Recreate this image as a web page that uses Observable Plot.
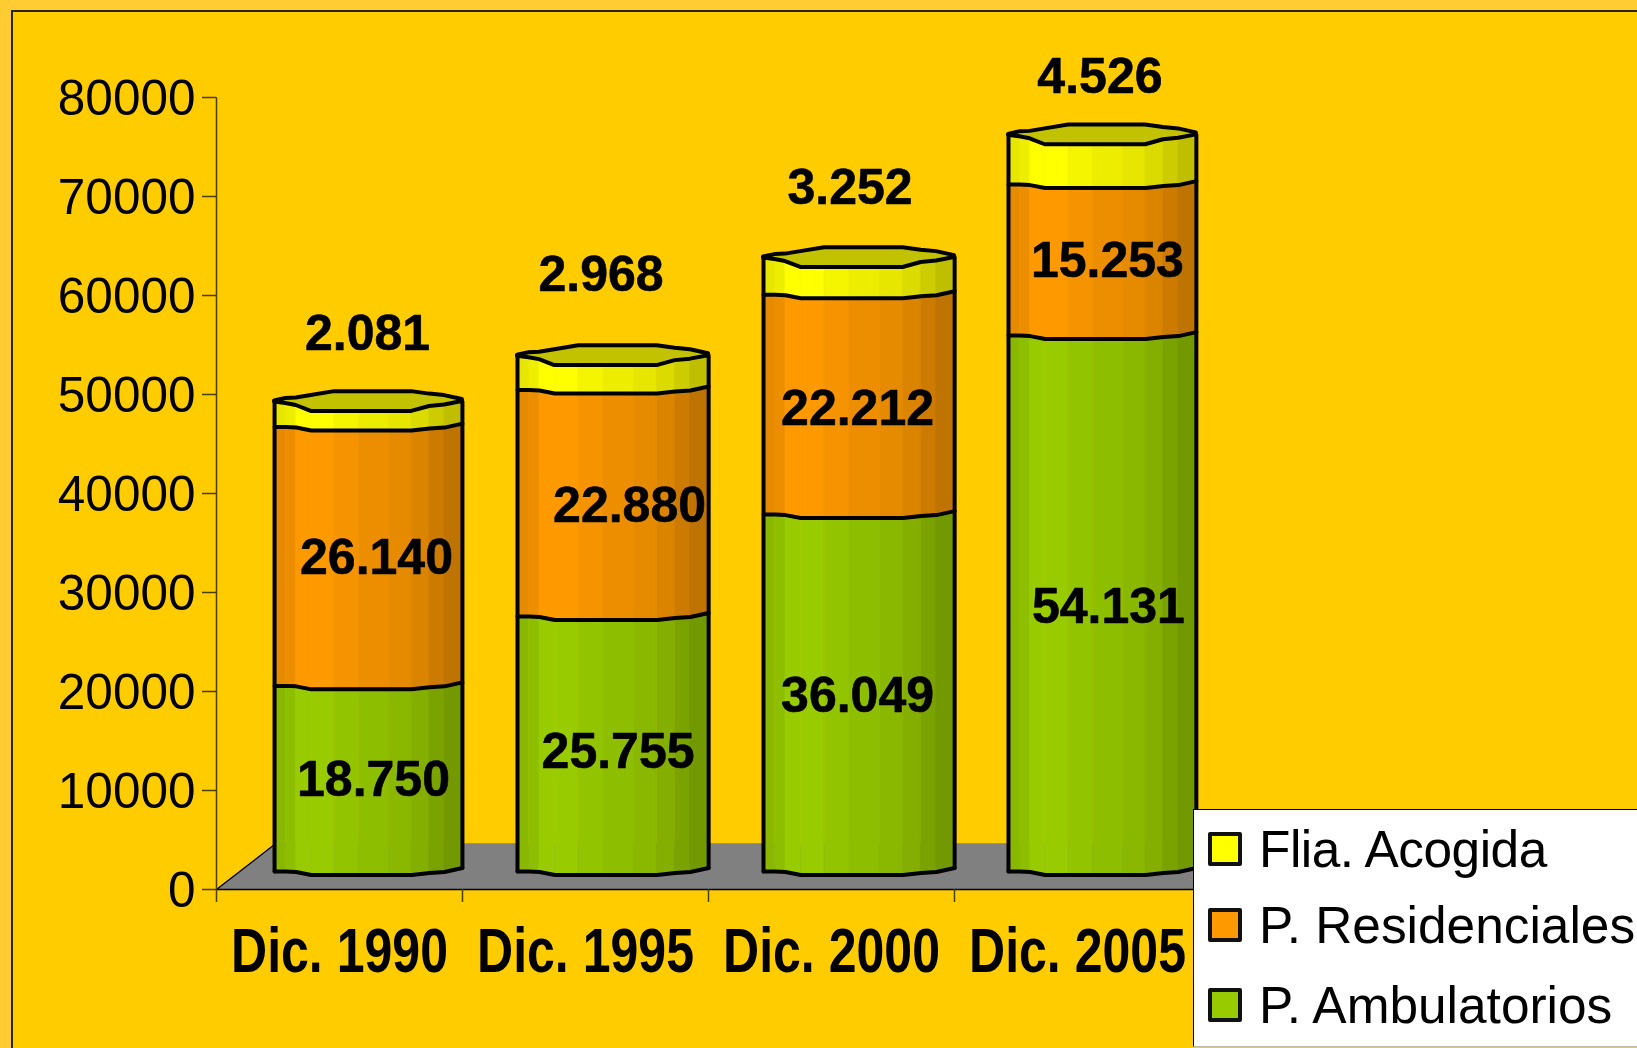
<!DOCTYPE html>
<html lang="es">
<head>
<meta charset="utf-8">
<title>Plazas por modalidad</title>
<script src="https://cdn.jsdelivr.net/npm/d3@7"></script>
<script src="https://cdn.jsdelivr.net/npm/@observablehq/plot@0.6"></script>
<style>
  html, body { margin: 0; padding: 0; overflow: hidden; background: #FFCC33; }
  #page { position: relative; width: 1637px; height: 1048px; overflow: hidden; font-family: "Liberation Sans", Arial, sans-serif; }
  #inner { position: absolute; left: 11px; top: 10px; width: 1640px; height: 1050px; background: #FFCC00; border: 2px solid #2b2400; box-sizing: border-box; }
  #chart { position: absolute; left: 0; top: 0; }
  #legend { position: absolute; left: 1193px; top: 809px; width: 460px; height: 238px; background: #fff; border: 1.5px solid #000; box-sizing: border-box; border-bottom-color: #bbb; }
  .sw { position: absolute; left: 14px; width: 34px; height: 34px; box-sizing: border-box; border: 4px solid #111; border-radius: 2px; }
  .lb { position: absolute; left: 65px; font-size: 51.4px; color: #000; white-space: nowrap; }
</style>
</head>
<body>
<div id="page">
  <div id="inner"></div>
  <div id="chart"></div>
  <div id="legend"></div>
</div>
<script>
// ---- chart values ----
const categories = ["Dic. 1990", "Dic. 1995", "Dic. 2000", "Dic. 2005"];
const ambulatorios = [18750, 25755, 36049, 54131];
const residenciales = [26140, 22880, 22212, 15253];
const acogida = [2081, 2968, 3252, 4526];
const yTicks = [0, 10000, 20000, 30000, 40000, 50000, 60000, 70000, 80000];
const seriesNames = ["Flia. Acogida", "P. Residenciales", "P. Ambulatorios"];
const seriesColors = ["#FFFF00", "#FF9900", "#99CC00"];

// ---- cylinder shape, in axis units ----
const cylLeft = [0.236, 1.2236, 2.2236, 3.2195];
const cylWidth = [0.7637, 0.777, 0.777, 0.7637];
const floorDepth = 4616;
const floorSkew = 0.24;
const baseLift = -18; // px: the 3D depth raises the column foot above the axis
const profile = [0, 0.06, 0.115, 0.195, 0.32, 0.45, 0.61, 0.73, 0.825, 0.905, 1];
const edgeFront = [0, 0, 50, 350, 350, 350, 350, 350, 150, 50, -350];
const lidFront = [-450, -300, -100, 500, 500, 500, 500, 500, 0, -150, -500];
const lidBack = [-550, -800, -850, -1100, -1500, -1500, -1500, -1500, -1250, -1100, -700];
const shades = [0.9, 0.93, 1, 1, 0.96, 0.93, 0.9, 0.86, 0.8, 0.75];

// ---- label nudges, px ----
const dxAmb = [5, 5, -1.5, 6], dyAmb = [1, 8, 3, 3];
const dxRes = [8, 16.5, -1.5, 5], dyRes = [1.5, 3, 4.5, 1];
const dxAco = [-1, -12, -9, -2.5], dyAco = [-72, -85.5, -75, -63];

const fmt = v => d3.format(",")(v).replace(",", ".");
const shade = (c, k) => { const r = d3.rgb(c); return d3.rgb(r.r * k, r.g * k, r.b * k).formatHex(); };

// ---- derived tables ----
const strips = [], edges = [], lids = [], sides = [];
categories.forEach((cat, i) => {
  const xAt = u => cylLeft[i] + u * cylWidth[i];
  const levels = [0, ambulatorios[i], ambulatorios[i] + residenciales[i], ambulatorios[i] + residenciales[i] + acogida[i]];
  const segColor = [seriesColors[2], seriesColors[1], seriesColors[0]];
  segColor.forEach((c, s) => {
    for (let k = 0; k < shades.length; k++) {
      [k, k + 1].forEach(j => strips.push({
        id: `${i}-${s}-${k}`, x: xAt(profile[j]),
        y1: levels[s] - edgeFront[j],
        y2: levels[s + 1] - (s === 2 ? lidFront[j] : edgeFront[j]),
        fill: shade(c, shades[k])
      }));
    }
  });
  [0, 1, 2].forEach(s => profile.forEach((u, j) => edges.push({ id: `${i}-${s}`, x: xAt(u), y: levels[s] - edgeFront[j] })));
  profile.forEach((u, j) => lids.push({ id: i, x: xAt(u), y1: levels[3] - lidFront[j], y2: levels[3] - lidBack[j] }));
  [[0, 0], [profile.length - 1, 1]].forEach(([j, e]) => {
    sides.push({ id: `${i}-${e}`, x: xAt(profile[j]), y: -edgeFront[j] });
    sides.push({ id: `${i}-${e}`, x: xAt(profile[j]), y: levels[3] - lidFront[j] });
  });
});

const floor = [
  { x: 0, y1: 0, y2: 0 },
  { x: floorSkew, y1: 0, y2: floorDepth },
  { x: 4, y1: 0, y2: floorDepth },
  { x: 4 + floorSkew, y1: floorDepth, y2: floorDepth }
];
const slant = [{ x: 0, y: 0 }, { x: floorSkew, y: floorDepth }];

const labelStyle = { text: "t", fontSize: 50, fontWeight: "bold", fontFamily: "Liberation Sans", fill: "#000", stroke: "#000", strokeWidth: 0.6 };
const labelMarks = [];
categories.forEach((cat, i) => {
  const cx = cylLeft[i] + cylWidth[i] / 2;
  const a = ambulatorios[i], r = residenciales[i], f = acogida[i];
  labelMarks.push(Plot.text([{ x: cx, y: a / 2, t: fmt(a) }], { x: "x", y: "y", ...labelStyle, dx: dxAmb[i], dy: baseLift + dyAmb[i] }));
  labelMarks.push(Plot.text([{ x: cx, y: a + r / 2, t: fmt(r) }], { x: "x", y: "y", ...labelStyle, dx: dxRes[i], dy: baseLift + dyRes[i] }));
  labelMarks.push(Plot.text([{ x: cx, y: a + r + f, t: fmt(f) }], { x: "x", y: "y", ...labelStyle, dx: dxAco[i], dy: baseLift + dyAco[i] }));
});

const axisInk = "#4a3d00";
const plot = Plot.plot({
  width: 1637,
  height: 1048,
  marginLeft: 216,
  marginRight: 437,
  marginTop: 97,
  marginBottom: 159,
  style: { background: "transparent", fontFamily: "Liberation Sans" },
  x: { domain: [0, 4], axis: null },
  y: { domain: [0, 80000], axis: null },
  color: { type: "identity" },
  marks: [
    Plot.areaY(floor, { x: "x", y1: "y1", y2: "y2", fill: "#808080" }),
    Plot.line(slant, { x: "x", y: "y", stroke: "#000", strokeWidth: 1.2 }),
    Plot.ruleY([0], { stroke: "#000", strokeWidth: 1.5, x1: 0, x2: 4 + floorSkew }),
    Plot.ruleX([0], { y1: 0, y2: 80000, stroke: axisInk, strokeWidth: 1.5 }),
    Plot.axisY({ ticks: yTicks, tickFormat: () => "", tickSize: 14, stroke: axisInk, label: null, strokeWidth: 1.5 }),
    Plot.axisY({ ticks: yTicks, tickFormat: d => String(d), tickSize: 0, tickPadding: 21, dy: 2, fontSize: 49.5, fontFamily: "Liberation Sans", fill: "#000", label: null }),
    Plot.axisX({ ticks: [0, 1, 2, 3, 4], tickFormat: () => "", tickSize: 13, stroke: axisInk, label: null, strokeWidth: 1.5 }),
    Plot.axisX({ ticks: [0.5, 1.5, 2.5, 3.5], tickFormat: d => categories[Math.floor(d)], tickSize: 0, tickPadding: 38, fontSize: 63, fontWeight: "bold", fontFamily: "Liberation Sans", fill: "#000", label: null }),
    Plot.areaY(strips, { x: "x", y1: "y1", y2: "y2", z: "id", fill: "fill", stroke: "fill", strokeWidth: 0.5, dy: baseLift }),
    Plot.areaY(lids, { x: "x", y1: "y1", y2: "y2", z: "id", fill: shade(seriesColors[0], 0.76), stroke: "#000", strokeWidth: 4, strokeLinejoin: "round", dy: baseLift }),
    Plot.line(edges, { x: "x", y: "y", z: "id", stroke: "#000", strokeWidth: 4, strokeLinejoin: "round", dy: baseLift }),
    Plot.line(sides, { x: "x", y: "y", z: "id", stroke: "#000", strokeWidth: 4, dy: baseLift }),
    ...labelMarks
  ]
});
document.getElementById("chart").appendChild(plot);

// the category labels are a condensed bold in the reference: squeeze the real text
d3.select(plot).selectAll("text").filter(function () { return categories.includes(this.textContent); })
  .attr("textLength", 217).attr("lengthAdjust", "spacingAndGlyphs");
d3.select(plot).selectAll("text tspan").filter(function () { return categories.includes(this.textContent); })
  .attr("textLength", 217).attr("lengthAdjust", "spacingAndGlyphs");

// ---- legend, overlapping the plot as in the reference ----
const legend = document.getElementById("legend");
const swatchTops = [22, 98, 178];
const textTops = [9, 85, 165];
const textSpacing = [-0.5, 0, 0];
seriesNames.forEach((name, i) => {
  const sw = document.createElement("div");
  sw.className = "sw";
  sw.style.top = swatchTops[i] + "px";
  sw.style.background = seriesColors[i];
  legend.appendChild(sw);
  const lb = document.createElement("div");
  lb.className = "lb";
  lb.style.top = textTops[i] + "px";
  lb.style.letterSpacing = textSpacing[i] + "px";
  lb.textContent = name;
  legend.appendChild(lb);
});
</script>
</body>
</html>
